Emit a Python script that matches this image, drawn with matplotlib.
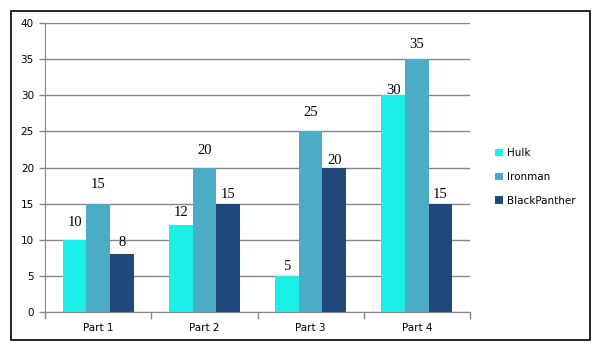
import matplotlib
matplotlib.use("Agg")
import matplotlib.pyplot as plt
from matplotlib.patches import Rectangle, Patch
import numpy as np

categories = ["Part 1", "Part 2", "Part 3", "Part 4"]
series_names = ["Hulk", "Ironman", "BlackPanther"]
hulk = [10, 12, 5, 30]
ironman = [15, 20, 25, 35]
blackpanther = [8, 15, 20, 15]
colors = ["#1CEFE8", "#4BACC6", "#1F497D"]
y_ticks = [0, 5, 10, 15, 20, 25, 30, 35, 40]
# vertical offset (pixels) of each value label centre above its bar top
label_offsets = [[17, 13, 9, 5], [19, 17, 19, 15], [12, 9, 7, 9]]

W, H = 610, 357
fig = plt.figure(figsize=(W / 100, H / 100), dpi=100)
fig.patches.append(Rectangle((11 / W, 1 - 340 / H), (590 - 11) / W, (340 - 11) / H,
                             transform=fig.transFigure, fill=False, edgecolor="black", linewidth=1.2))

ax = fig.add_axes([45 / W, 1 - 312 / H, (470 - 45) / W, (312 - 23) / H])
x = np.arange(len(categories))
bw = 0.222
grey = "#868686"
for i, (vals, name) in enumerate(zip([hulk, ironman, blackpanther], series_names)):
    pos = x + (i - 1) * bw
    bars = ax.bar(pos, vals, width=bw, color=colors[i], label=name, zorder=3)
    for j, (b, v) in enumerate(zip(bars, vals)):
        ax.annotate(str(v), (b.get_x() + b.get_width() / 2, v),
                    xytext=(0, label_offsets[i][j] * 0.72),
                    textcoords="offset points", ha="center", va="center",
                    fontsize=10.5, family="Liberation Serif", zorder=4)

ax.set_xlim(-0.5, len(categories) - 0.5)
ax.set_ylim(0, 40)
ax.set_yticks(y_ticks)
ax.set_yticklabels([str(t) for t in y_ticks], fontsize=7.5)
ax.yaxis.grid(True, color=grey, linewidth=1, zorder=0)
ax.set_xticks(x)
ax.set_xticklabels(categories, fontsize=7.5)
ax.tick_params(axis="x", which="major", length=0, pad=8)
ax.set_xticks(np.arange(-0.5, len(categories)), minor=True)
ax.tick_params(axis="x", which="minor", length=5, color=grey, width=1)
ax.tick_params(axis="y", length=4, color=grey, width=1, pad=4)
for s in ["top", "right"]:
    ax.spines[s].set_visible(False)
for s in ["left", "bottom"]:
    ax.spines[s].set_color(grey)
    ax.spines[s].set_zorder(5)

handles = [Patch(facecolor=c, label=n) for c, n in zip(colors, series_names)]
fig.legend(handles=handles, loc="center left", bbox_to_anchor=(486 / W, 1 - 177 / H),
           frameon=False, fontsize=7.5, handlelength=0.7, handleheight=0.7,
           handletextpad=0.4, labelspacing=1.3)

fig.savefig("out.png", dpi=100)
